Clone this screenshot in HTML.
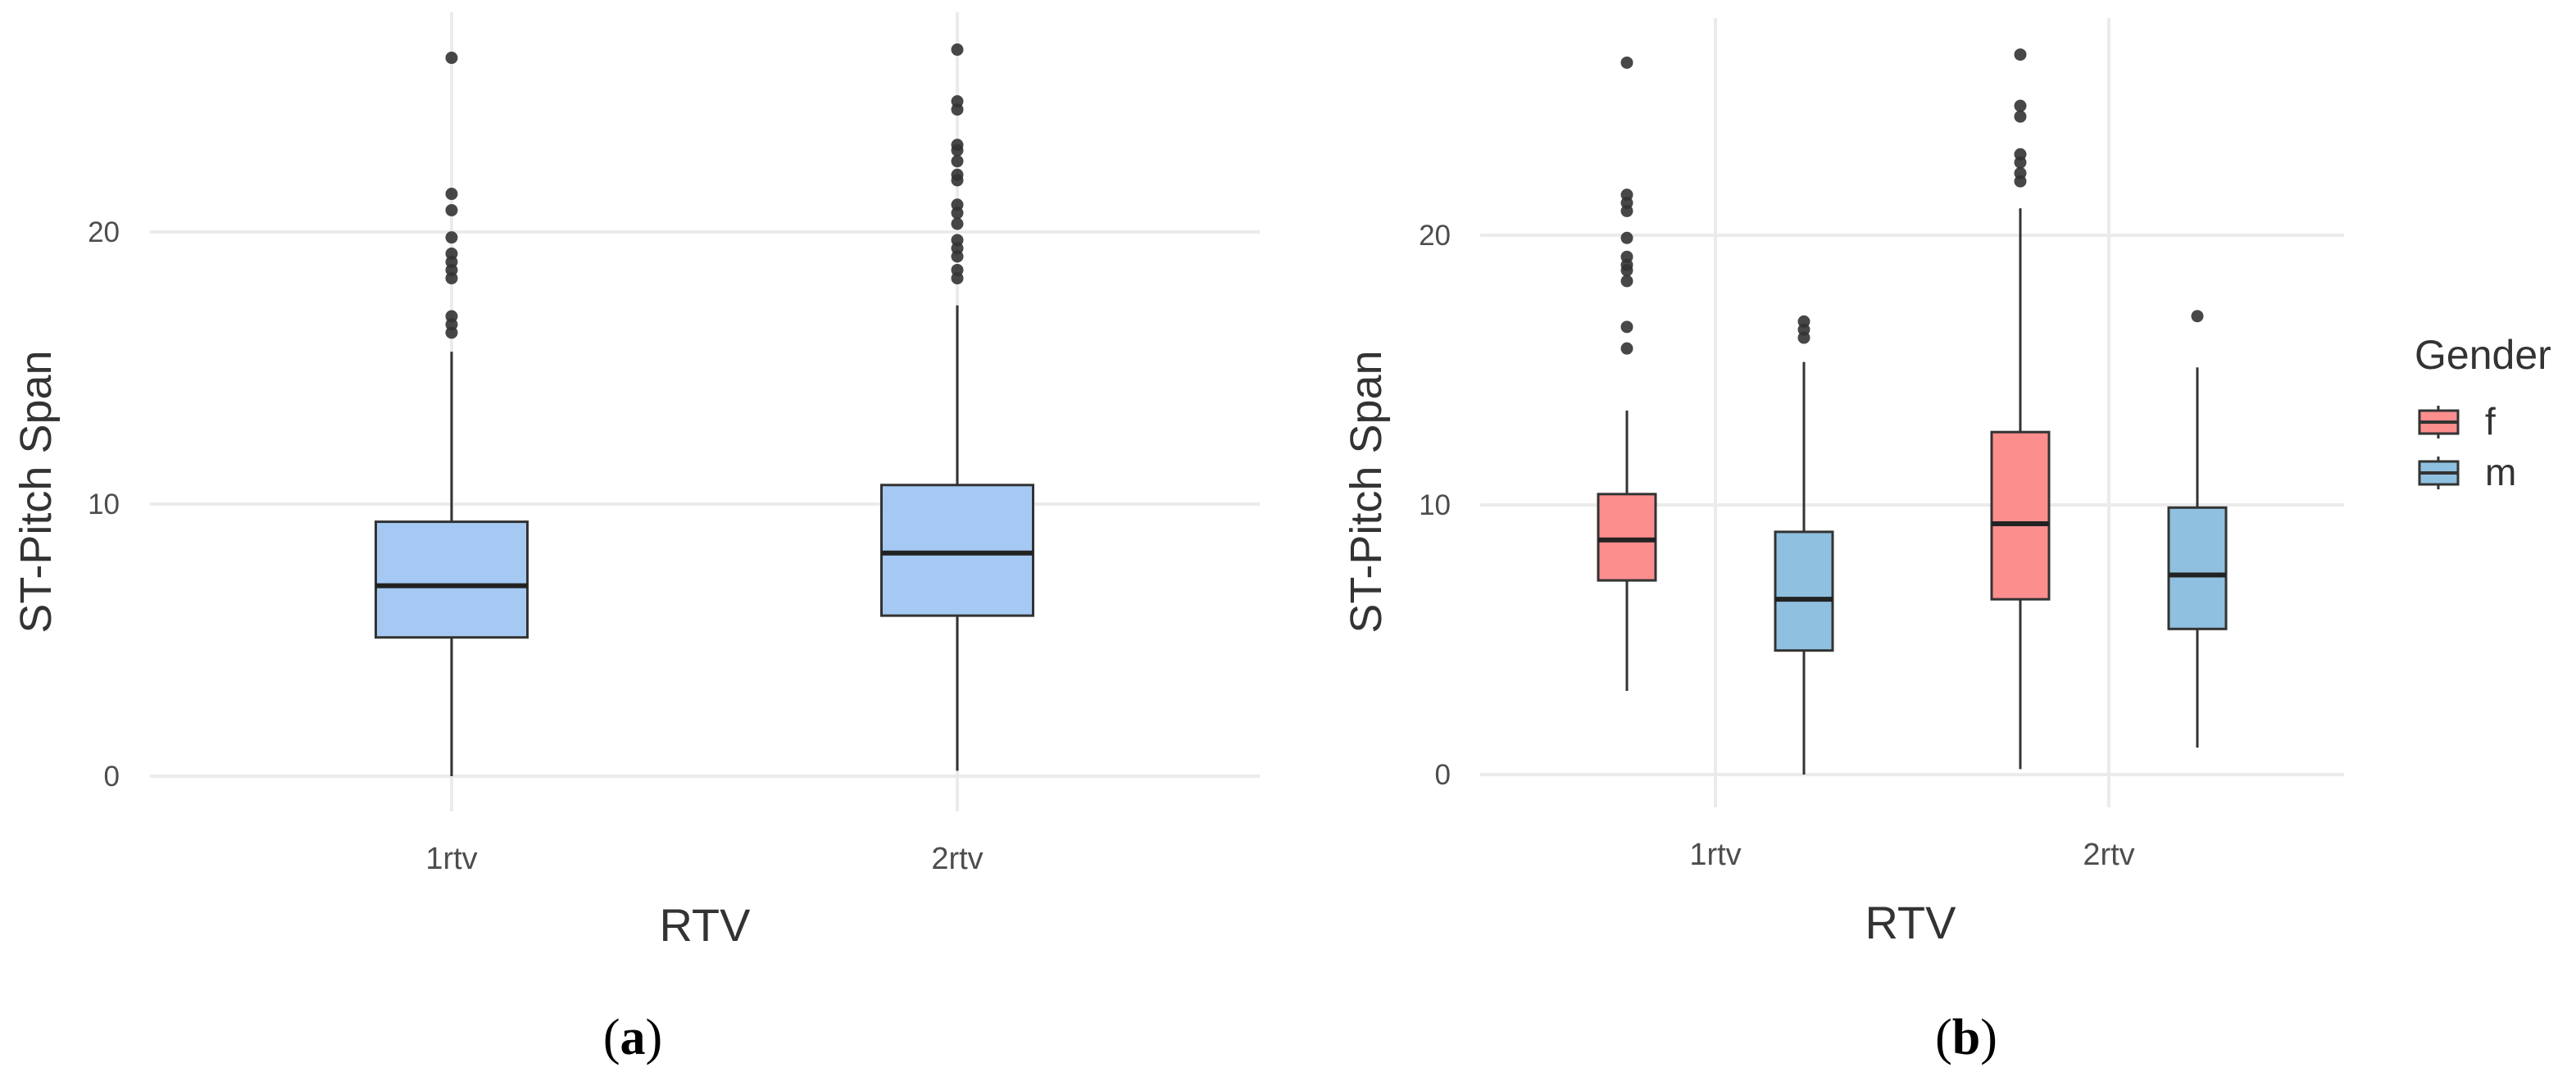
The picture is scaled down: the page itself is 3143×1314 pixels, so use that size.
<!DOCTYPE html>
<html><head><meta charset="utf-8">
<style>
html,body{margin:0;padding:0;background:#fff;}
svg{display:block;font-family:"Liberation Sans",sans-serif;}
</style></head>
<body>
<svg id="chart" width="3143" height="1314" viewBox="0 0 3143 1314" xmlns="http://www.w3.org/2000/svg"></svg>
<script>
// Panel (a) data
const catsA = ["1rtv", "2rtv"];
const q1A = [5.1, 5.9];
const medA = [7.0, 8.2];
const q3A = [9.35, 10.7];
const loA = [0, 0.2];
const hiA = [15.6, 17.3];
const outA1 = [16.3, 16.6, 16.9, 18.3, 18.6, 18.9, 19.2, 19.8, 20.8, 21.4, 26.4];
const outA2 = [18.3, 18.6, 19.1, 19.4, 19.7, 20.3, 20.7, 21.0, 21.9, 22.1, 22.6, 23.0, 23.2, 24.5, 24.8, 26.7];
// Panel (b) data: groups f,m within each category
const groupsB = ["f", "m"];
const q1B = [[7.2, 4.6], [6.5, 5.4]];
const medB = [[8.7, 6.5], [9.3, 7.4]];
const q3B = [[10.4, 9.0], [12.7, 9.9]];
const loB = [[3.1, 0], [0.2, 1.0]];
const hiB = [[13.5, 15.3], [21.0, 15.1]];
const outB = [[[15.8, 16.6, 18.3, 18.7, 18.9, 19.2, 19.9, 20.9, 21.2, 21.5, 26.4], [16.2, 16.5, 16.8]],
              [[22.0, 22.3, 22.7, 23.0, 24.4, 24.8, 26.7], [17.0]]];
const yTicks = [0, 10, 20];

const svg = document.getElementById('chart');
const NS = "http://www.w3.org/2000/svg";
function mk(tag, attrs, parent) {
  const e = document.createElementNS(NS, tag);
  for (const k in attrs) e.setAttribute(k, attrs[k]);
  (parent || svg).appendChild(e);
  return e;
}
const GRID = "#ebebeb", INK = "#333333";

function yA(v) { return 947 - v * 33.2; }
function yB(v) { return 945 - v * 32.9; }
const xA = i => [551, 1168][i];
const xB = i => [2093, 2573][i];

function drawBox(g, cx, w, q1, med, q3, lo, hi, outs, fill, ys, name) {
  const grp = mk('g', {}, g);
  
  
  const wl = mk('line', {x1: cx, x2: cx, y1: ys(lo), y2: ys(q1), stroke: INK, 'stroke-width': 3}, grp);
  
  
  const wh = mk('line', {x1: cx, x2: cx, y1: ys(hi), y2: ys(q3), stroke: INK, 'stroke-width': 3}, grp);
  
  
  const r = mk('rect', {x: cx - w / 2, y: ys(q3), width: w, height: ys(q1) - ys(q3), fill: fill, stroke: INK, 'stroke-width': 3}, grp);
  
  
  const m = mk('line', {x1: cx - w / 2, x2: cx + w / 2, y1: ys(med), y2: ys(med), stroke: '#222', 'stroke-width': 6}, grp);
  
  
  outs.forEach(v => {
    const c = mk('circle', {cx: cx, cy: ys(v), r: 7.5, fill: '#333', 'fill-opacity': 0.9}, grp);
    
    
  });
}

// ---------- Panel (a) ----------
const gA = mk('g', {});


yTicks.forEach(t => {
  const l = mk('line', {x1: 183, x2: 1537, y1: yA(t), y2: yA(t), stroke: GRID, 'stroke-width': 4}, gA);
  
  
  const tx = mk('text', {x: 146, y: yA(t) + 12, 'text-anchor': 'end', 'font-size': 35, fill: '#4d4d4d'}, gA);
  tx.textContent = t;
  
  
});
catsA.forEach((c, i) => {
  const l = mk('line', {x1: xA(i), x2: xA(i), y1: 15, y2: 990, stroke: GRID, 'stroke-width': 4}, gA);
  
  
  const tx = mk('text', {x: xA(i), y: 1060, 'text-anchor': 'middle', 'font-size': 38, fill: '#4d4d4d'}, gA);
  tx.textContent = c;
  
  
});
catsA.forEach((c, i) => {
  drawBox(gA, xA(i), 185, q1A[i], medA[i], q3A[i], loA[i], hiA[i], i === 0 ? outA1 : outA2, '#a5c9f3', yA, 'box-a-' + c);
});
let t = mk('text', {x: 860, y: 1148, 'text-anchor': 'middle', 'font-size': 56, fill: '#333'}, gA);
t.textContent = 'RTV';


t = mk('text', {x: 0, y: 0, transform: 'translate(62,600) rotate(-90)', 'text-anchor': 'middle', 'font-size': 54, fill: '#333'}, gA);
t.textContent = 'ST-Pitch Span';


t = mk('text', {x: 772, y: 1286, 'text-anchor': 'middle', 'font-size': 62, 'font-family': '"Liberation Serif",serif', fill: '#000'}, gA);
t.innerHTML = '(<tspan font-weight="bold">a</tspan>)';



// ---------- Panel (b) ----------
const gB = mk('g', {});


yTicks.forEach(tk => {
  const l = mk('line', {x1: 1806, x2: 2860, y1: yB(tk), y2: yB(tk), stroke: GRID, 'stroke-width': 4}, gB);
  
  
  const tx = mk('text', {x: 1770, y: yB(tk) + 12, 'text-anchor': 'end', 'font-size': 35, fill: '#4d4d4d'}, gB);
  tx.textContent = tk;
  
  
});
catsA.forEach((c, i) => {
  const l = mk('line', {x1: xB(i), x2: xB(i), y1: 22, y2: 985, stroke: GRID, 'stroke-width': 4}, gB);
  
  
  const tx = mk('text', {x: xB(i), y: 1055, 'text-anchor': 'middle', 'font-size': 38, fill: '#4d4d4d'}, gB);
  tx.textContent = c;
  
  
});
const fills = ['#fc8e8e', '#8fc0e0'];
catsA.forEach((c, i) => {
  groupsB.forEach((gname, j) => {
    const cx = xB(i) + (j === 0 ? -108 : 108);
    drawBox(gB, cx, 70, q1B[i][j], medB[i][j], q3B[i][j], loB[i][j], hiB[i][j], outB[i][j], fills[j], yB, 'box-b-' + c + '-' + gname);
  });
});
t = mk('text', {x: 2331, y: 1145, 'text-anchor': 'middle', 'font-size': 56, fill: '#333'}, gB);
t.textContent = 'RTV';


t = mk('text', {x: 0, y: 0, transform: 'translate(1685,600) rotate(-90)', 'text-anchor': 'middle', 'font-size': 54, fill: '#333'}, gB);
t.textContent = 'ST-Pitch Span';


t = mk('text', {x: 2399, y: 1286, 'text-anchor': 'middle', 'font-size': 62, 'font-family': '"Liberation Serif",serif', fill: '#000'}, gB);
t.innerHTML = '(<tspan font-weight="bold">b</tspan>)';



// Legend
const gL = mk('g', {});


t = mk('text', {x: 2946, y: 450, 'font-size': 50, fill: '#333'}, gL);
t.textContent = 'Gender';


groupsB.forEach((gname, j) => {
  const cy = [515, 577][j];
  const e = mk('g', {}, gL);
  
  
  mk('line', {x1: 2975, x2: 2975, y1: cy - 20, y2: cy + 20, stroke: INK, 'stroke-width': 3}, e);
  mk('rect', {x: 2952, y: cy - 14, width: 47, height: 28, fill: fills[j], stroke: INK, 'stroke-width': 3}, e);
  mk('line', {x1: 2952, x2: 2999, y1: cy, y2: cy, stroke: INK, 'stroke-width': 4}, e);
  const lt = mk('text', {x: 3032, y: cy + 15, 'font-size': 46, fill: '#333'}, e);
  lt.textContent = gname;
  
  
});
</script>
</body></html>
